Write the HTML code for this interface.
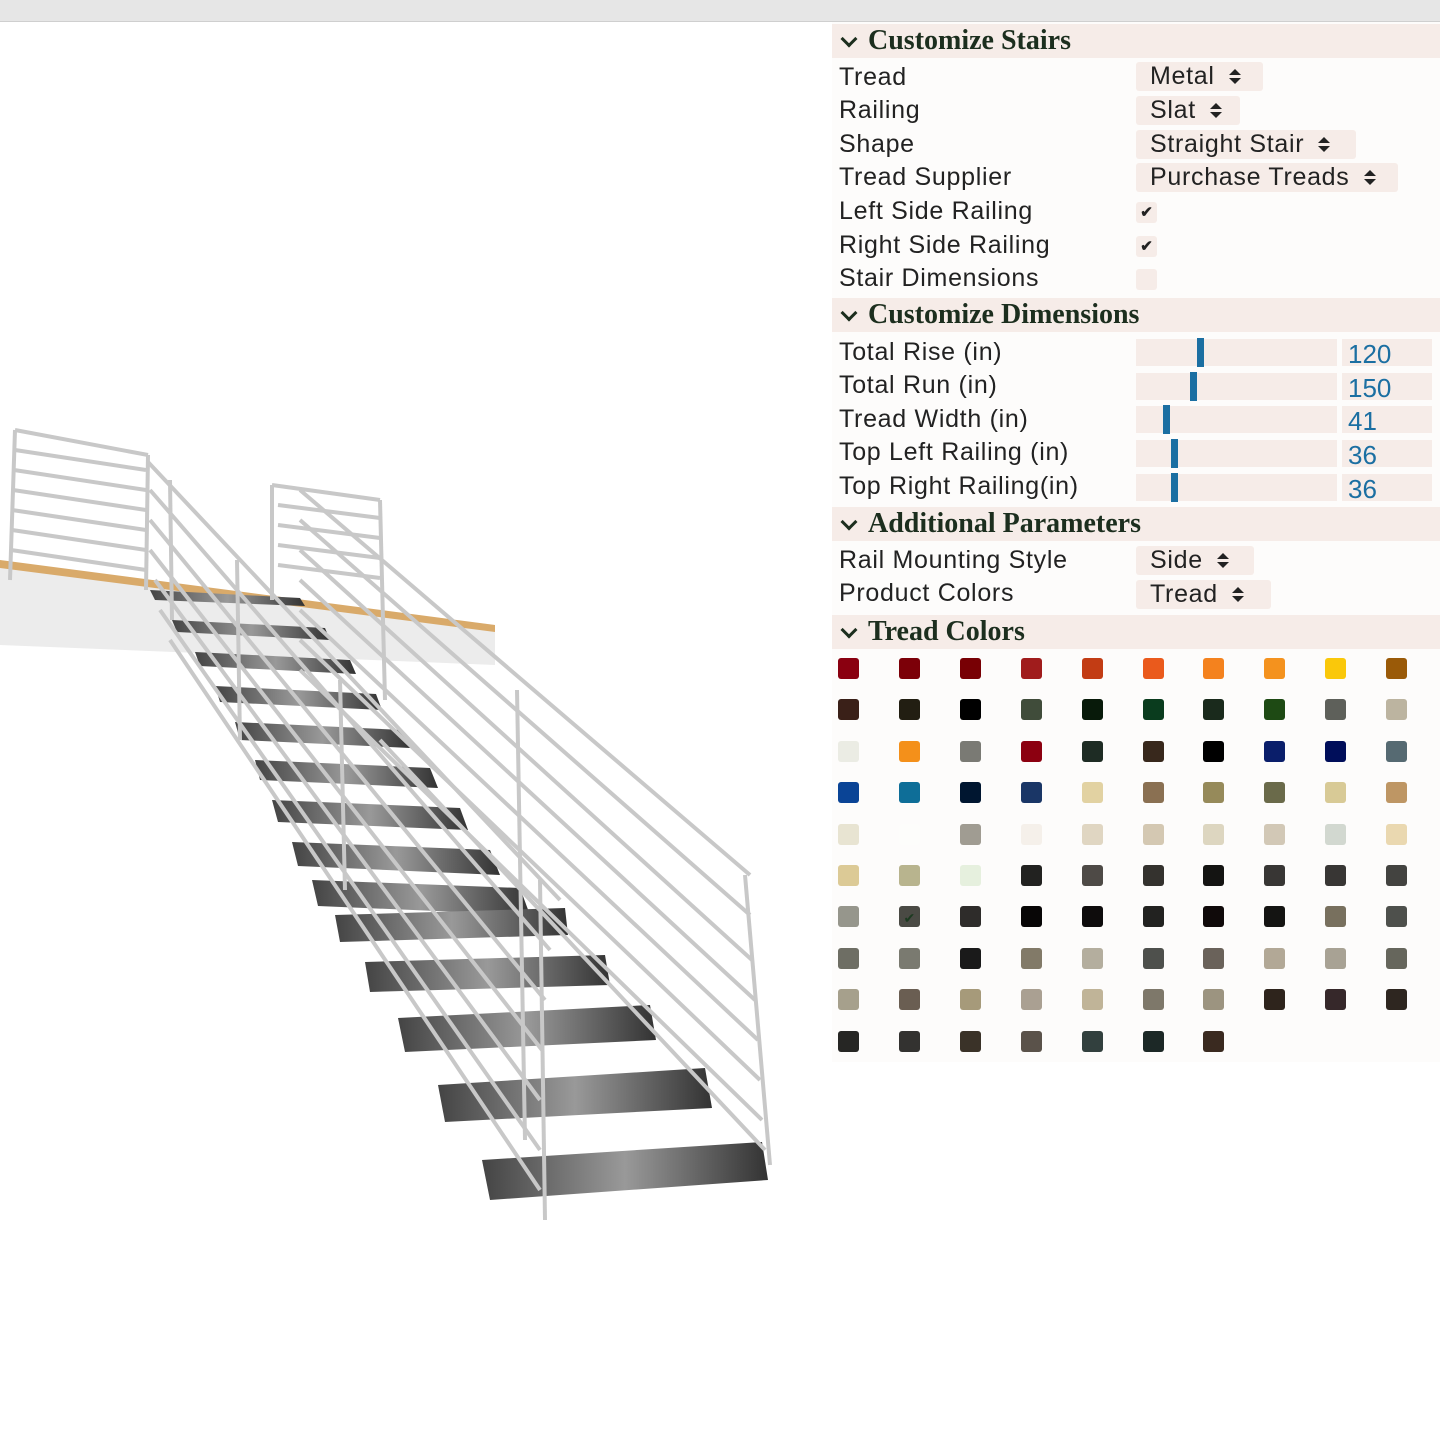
<!DOCTYPE html>
<html><head><meta charset="utf-8"><style>
*{margin:0;padding:0;box-sizing:border-box}
body{width:1440px;height:1440px;background:#fff;position:relative;overflow:hidden;font-family:"Liberation Sans",sans-serif}
.top{position:absolute;left:0;top:0;width:1440px;height:22px;background:#e6e6e6;border-bottom:1px solid #cfcfcf}
.panel{position:absolute;left:832px;top:22px;width:608px;height:1040px;background:#fdfcfb}
.hd{position:absolute;left:832px;width:608px;height:34px;background:#f6ece8;font-family:"Liberation Serif",serif;font-weight:bold;font-size:28px;color:#1c2e1e;line-height:34px;padding-left:36px}
.hd:before{content:"";position:absolute;left:11px;top:9px;width:9px;height:9px;border-right:3px solid #1c2e1e;border-bottom:3px solid #1c2e1e;transform:rotate(45deg)}
.lb{position:absolute;left:839px;font-size:25px;color:#222;line-height:30px;letter-spacing:0.7px}
.sel{position:absolute;left:1136px;height:29px;background:#f6ece8;font-size:25px;color:#222;line-height:29px;padding-left:14px;border-radius:3px;letter-spacing:0.7px}
.sel i{display:inline-block;width:0;height:0;margin-left:14px;position:relative;top:-9px;border-left:6px solid transparent;border-right:6px solid transparent;border-bottom:6px solid #222}
.sel i:after{content:"";position:absolute;left:-6px;top:9px;border-left:6px solid transparent;border-right:6px solid transparent;border-top:6px solid #222}
.cb{position:absolute;left:1136px;width:21px;height:21px;background:#f6ece8;border-radius:3px;font-size:15px;text-align:center;line-height:21px;color:#222;font-weight:bold}
.tr{position:absolute;left:1136px;width:201px;height:27px;background:#f6ece8}
.th{position:absolute;top:-1px;width:7px;height:29px;background:#1b6fa2}
.nb{position:absolute;left:1342px;width:90px;height:27px;background:#f6ece8;color:#1b6fa2;font-size:26px;line-height:30px;padding-left:6px}
.sw{position:absolute;width:21px;height:21px;border-radius:3px}
</style></head><body>
<div class="top"></div>
<svg style="position:absolute;left:0;top:0" width="830" height="1440" viewBox="0 0 830 1440">
<defs><linearGradient id="tg" x1="0" x2="1"><stop offset="0" stop-color="#444"/><stop offset=".5" stop-color="#999"/><stop offset="1" stop-color="#333"/></linearGradient></defs>
<polygon points="0,565 495,625 495,665 0,645" fill="#ececec"/>
<polygon points="0,560 495,625 495,632 0,568" fill="#d9aa6a"/>
<g fill="url(#tg)">
<polygon points="150,590 300,598 305,606 155,600"/>
<polygon points="172,620 325,628 330,640 177,632"/>
<polygon points="195,652 350,660 356,674 200,666"/>
<polygon points="215,686 376,694 382,710 220,702"/>
<polygon points="235,722 402,730 410,748 240,740"/>
<polygon points="255,760 430,768 438,788 260,780"/>
<polygon points="272,800 460,808 468,830 278,822"/>
<polygon points="292,842 490,850 500,875 298,866"/>
<polygon points="312,880 520,888 530,915 318,906"/>
<polygon points="335,915 565,908 568,935 340,942"/>
<polygon points="365,962 605,955 610,985 370,992"/>
<polygon points="398,1018 650,1005 656,1040 405,1052"/>
<polygon points="438,1085 705,1068 712,1108 445,1122"/>
<polygon points="482,1160 762,1142 768,1180 490,1200"/>
</g>
<g stroke="#c8c8c8" stroke-width="4" fill="none">
<line x1="15" y1="430" x2="148" y2="455"/>
<line x1="15" y1="430" x2="10" y2="580"/><line x1="148" y1="455" x2="146" y2="590"/>
<line x1="15" y1="450" x2="146" y2="470"/><line x1="14" y1="470" x2="146" y2="490"/><line x1="13" y1="490" x2="146" y2="510"/><line x1="12" y1="510" x2="146" y2="530"/><line x1="12" y1="530" x2="146" y2="550"/><line x1="11" y1="550" x2="146" y2="570"/>
<line x1="148" y1="462" x2="560" y2="900"/><line x1="150" y1="490" x2="550" y2="950"/><line x1="150" y1="520" x2="545" y2="1000"/><line x1="150" y1="550" x2="542" y2="1050"/><line x1="155" y1="580" x2="540" y2="1100"/><line x1="160" y1="610" x2="540" y2="1150"/><line x1="170" y1="640" x2="540" y2="1190"/>
<line x1="170" y1="480" x2="172" y2="620"/><line x1="237" y1="560" x2="240" y2="740"/><line x1="340" y1="680" x2="345" y2="890"/><line x1="540" y1="880" x2="545" y2="1220"/>
<line x1="272" y1="485" x2="380" y2="500"/><line x1="272" y1="485" x2="272" y2="600"/><line x1="380" y1="500" x2="385" y2="700"/>
<line x1="278" y1="505" x2="380" y2="518"/><line x1="278" y1="525" x2="380" y2="538"/><line x1="278" y1="545" x2="380" y2="558"/><line x1="278" y1="565" x2="380" y2="578"/>
<line x1="300" y1="490" x2="750" y2="875"/><line x1="300" y1="520" x2="750" y2="915"/><line x1="300" y1="550" x2="752" y2="960"/><line x1="300" y1="580" x2="755" y2="1000"/><line x1="300" y1="610" x2="758" y2="1040"/><line x1="300" y1="640" x2="760" y2="1080"/><line x1="300" y1="670" x2="762" y2="1120"/><line x1="380" y1="740" x2="765" y2="1150"/>
<line x1="517" y1="690" x2="525" y2="1140"/><line x1="745" y1="875" x2="770" y2="1165"/>
</g>
</svg>
<div class="panel"></div>
<div class="hd" style="top:24px">Customize Stairs</div>
<div class="lb" style="top:62px">Tread</div><div class="sel" style="top:62px;width:127px">Metal<i></i></div>
<div class="lb" style="top:95px">Railing</div><div class="sel" style="top:96px;width:104px">Slat<i></i></div>
<div class="lb" style="top:129px">Shape</div><div class="sel" style="top:130px;width:220px">Straight Stair<i></i></div>
<div class="lb" style="top:162px">Tread Supplier</div><div class="sel" style="top:163px;width:262px">Purchase Treads<i></i></div>
<div class="lb" style="top:196px">Left Side Railing</div><div class="cb" style="top:202px">✔</div>
<div class="lb" style="top:230px">Right Side Railing</div><div class="cb" style="top:236px">✔</div>
<div class="lb" style="top:263px">Stair Dimensions</div><div class="cb" style="top:269px"></div>
<div class="hd" style="top:298px">Customize Dimensions</div>
<div class="lb" style="top:337px">Total Rise (in)</div><div class="tr" style="top:339px"><div class="th" style="left:61px"></div></div><div class="nb" style="top:339px">120</div>
<div class="lb" style="top:370px">Total Run (in)</div><div class="tr" style="top:373px"><div class="th" style="left:54px"></div></div><div class="nb" style="top:373px">150</div>
<div class="lb" style="top:404px">Tread Width (in)</div><div class="tr" style="top:406px"><div class="th" style="left:27px"></div></div><div class="nb" style="top:406px">41</div>
<div class="lb" style="top:437px">Top Left Railing (in)</div><div class="tr" style="top:440px"><div class="th" style="left:35px"></div></div><div class="nb" style="top:440px">36</div>
<div class="lb" style="top:471px">Top Right Railing(in)</div><div class="tr" style="top:474px"><div class="th" style="left:35px"></div></div><div class="nb" style="top:474px">36</div>
<div class="hd" style="top:507px">Additional Parameters</div>
<div class="lb" style="top:545px">Rail Mounting Style</div><div class="sel" style="top:546px;width:118px">Side<i></i></div>
<div class="lb" style="top:578px">Product Colors</div><div class="sel" style="top:580px;width:135px">Tread<i></i></div>
<div class="hd" style="top:615px">Tread Colors</div>
<div id="sw"></div>
<script>
var c=[
"#8a0010 #7c0008 #780004 #a01c1c #c23c14 #ea5a1c #f4821e #f4921e #fac80a #9a5a08",
"#3a2018 #221e12 #000000 #404c3a #081a0a #0a3c1e #1a2a1c #1e4a14 #5e605a #bcb4a0",
"#ebece4 #f4901a #7a7a74 #8c0010 #1e2c24 #38281c #000000 #0a1e6a #000e5a #566a72",
"#0a4496 #0e6e98 #001630 #1a3666 #e2d2a2 #8a7052 #968a5a #6a6a4a #d8ca96 #be9664",
"#e8e4d2 #fdfdfb #a09c92 #f5f0ea #e0d6c2 #d4c8b2 #ddd6c0 #d2c8b6 #d2d8d0 #ead8b0",
"#dcca96 #b8b48e #e6f0de #222220 #4e4a46 #34322e #141412 #383634 #383634 #434340",
"#96968c #4a4a44 #2e2c2a #080606 #0e0c0c #222220 #100a0a #141412 #78705e #4e504c",
"#6e6e64 #7a7a70 #1a1a1a #827a68 #b4ae9e #4e504c #6a625a #b2a896 #a8a294 #66665c",
"#a6a08c #6a5e52 #a69a7a #aaa092 #c0b498 #7e786a #9c9480 #2e241c #36282a #2e2620",
"#262624 #333230 #3a3228 #5a524a #32403e #1c2826 #3a2a20"];
var h="";
c.forEach(function(r,i){r.split(" ").forEach(function(col,j){
var t=(i==6&&j==1)?'<span style="display:block;text-align:center;color:#1c3a20;font-size:14px;line-height:24px">✔</span>':'';
h+='<div class="sw" style="left:'+(838+j*60.9)+'px;top:'+(658+i*41.4)+'px;background:'+col+'">'+t+'</div>';});});
document.getElementById("sw").innerHTML=h;
</script>
</body></html>
